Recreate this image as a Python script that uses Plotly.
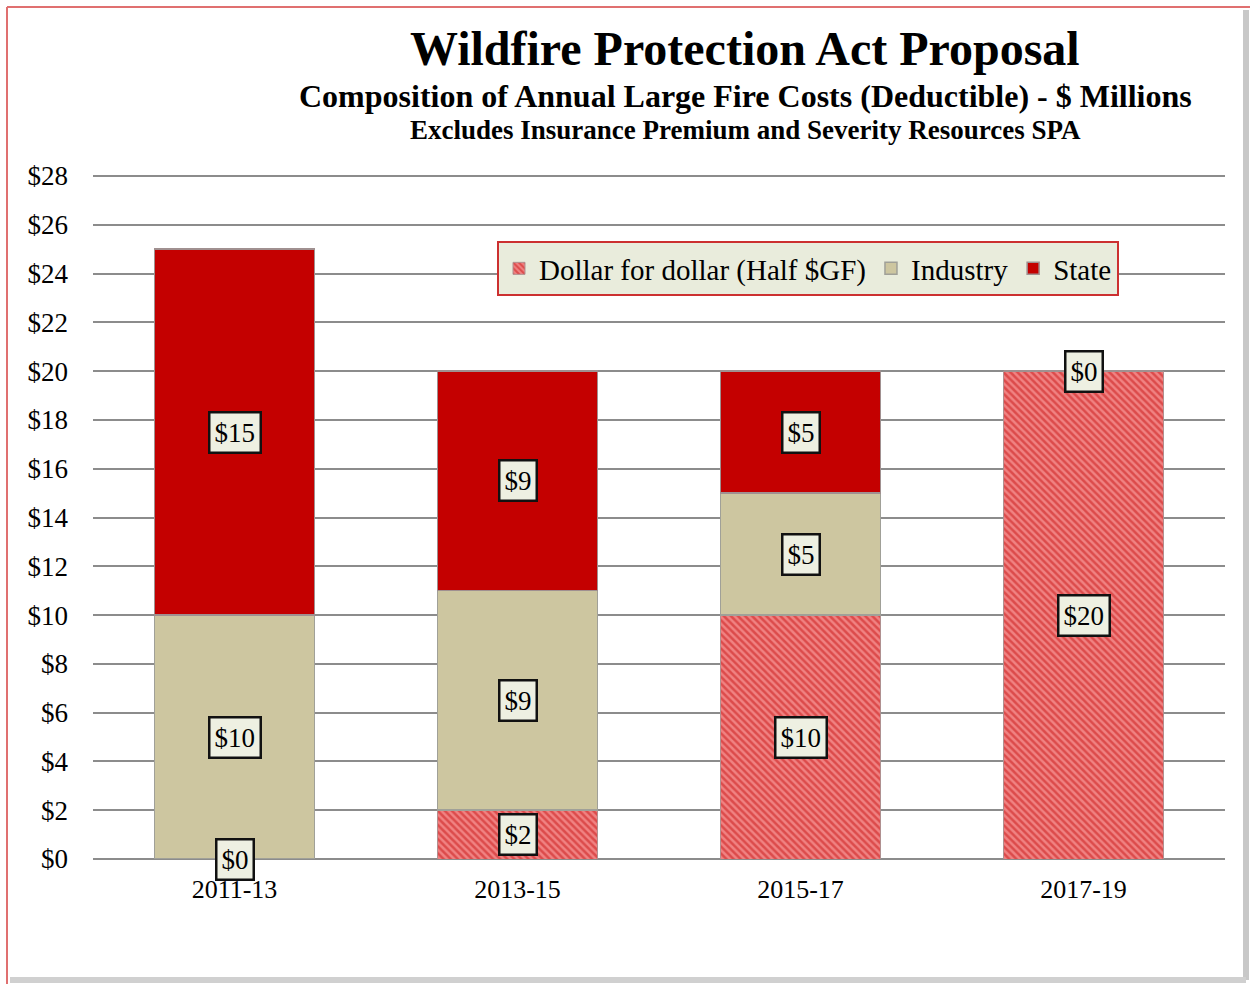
import plotly.graph_objects as go

categories = ["2011-13", "2013-15", "2015-17", "2017-19"]
dollar = [0, 2, 10, 20]
industry = [10, 9, 5, 0]
state = [15, 9, 5, 0]
series_names = ["Dollar for dollar (Half $GF)", "Industry", "State"]
y_ticks = list(range(0, 29, 2))

W, H = 1251, 984
L, R, T, B = 93, 26, 169, 125
FONT = "Liberation Serif, Times New Roman, serif"

fig = go.Figure()
fig.add_trace(go.Bar(
    name=series_names[0], x=categories, y=dollar,
    marker=dict(color="#e04040",
                pattern=dict(shape="\\", fgcolor="#c81414", bgcolor="#f08282", size=5, solidity=0.5),
                line=dict(color="#b09090", width=1)),
))
fig.add_trace(go.Bar(
    name=series_names[1], x=categories, y=industry,
    marker=dict(color="#cdc6a0", line=dict(color="#a0a098", width=1.5)),
))
fig.add_trace(go.Bar(
    name=series_names[2], x=categories, y=state,
    marker=dict(color="#c40000", line=dict(color="#a09090", width=1.5)),
))

# data label boxes
annos = []
for i, c in enumerate(categories):
    base = 0
    for vals in (dollar, industry, state):
        v = vals[i]
        annos.append(dict(
            x=c, y=base + v / 2, xref="x", yref="y", text=f"${v}", showarrow=False,
            font=dict(family=FONT, size=27, color="black"),
            bgcolor="#eef0e2", bordercolor="#111111", borderwidth=2.5, borderpad=4,
        ))
        base += v

def px_x(p):
    return (p - L) / (W - L - R)

def px_y(p):
    return (H - B - p) / (H - T - B)

titles = [
    ("Wildfire Protection Act Proposal", 48, 49),
    ("Composition of Annual Large Fire Costs (Deductible) - $ Millions", 32, 96),
    ("Excludes Insurance Premium and Severity Resources SPA", 27, 130),
]
for txt, sz, yc in titles:
    annos.append(dict(
        x=px_x(745), y=px_y(yc), xref="paper", yref="paper", text=f"<b>{txt}</b>",
        showarrow=False, xanchor="center", yanchor="middle",
        font=dict(family=FONT, size=sz, color="black"),
    ))

shapes = [
    # shadow right / bottom
    dict(type="line", xref="paper", yref="paper", x0=px_x(1246), x1=px_x(1246), y0=px_y(10), y1=px_y(980),
         line=dict(color="#c8c8c8", width=6), layer="below"),
    dict(type="line", xref="paper", yref="paper", x0=px_x(10), x1=px_x(1246), y0=px_y(980), y1=px_y(980),
         line=dict(color="#d0d0d0", width=6), layer="below"),
    # red border top / left
    dict(type="line", xref="paper", yref="paper", x0=px_x(7), x1=px_x(1250), y0=px_y(7), y1=px_y(7),
         line=dict(color="#e07070", width=2), layer="below"),
    dict(type="line", xref="paper", yref="paper", x0=px_x(7), x1=px_x(7), y0=px_y(7), y1=px_y(984),
         line=dict(color="#e07070", width=2), layer="below"),
]

fig.update_layout(
    width=W, height=H,
    margin=dict(l=L, r=R, t=T, b=B),
    barmode="stack", bargap=0.435,
    paper_bgcolor="white", plot_bgcolor="white",
    font=dict(family=FONT, size=26, color="black"),
    showlegend=True,
    legend=dict(
        orientation="h", x=px_x(497), y=px_y(241), xanchor="left", yanchor="top",
        bgcolor="#e9ecdc", bordercolor="#cc3030", borderwidth=2,
        font=dict(family=FONT, size=29, color="black"), itemwidth=30,
        traceorder="normal", tracegroupgap=0,
    ),
    annotations=annos,
    shapes=shapes,
    xaxis=dict(showgrid=False, showline=False, ticks="", tickfont=dict(size=26),
               ticklabelstandoff=12),
    yaxis=dict(range=[0, 28.287], tickvals=y_ticks, ticktext=[f"${v}" for v in y_ticks],
               showgrid=True, gridcolor="#8c8c8c", gridwidth=1.5, zeroline=True,
               zerolinecolor="#8c8c8c", zerolinewidth=1.5, tickfont=dict(size=27),
               ticks="", ticklabelstandoff=24),
)

fig.write_html("out.html")
